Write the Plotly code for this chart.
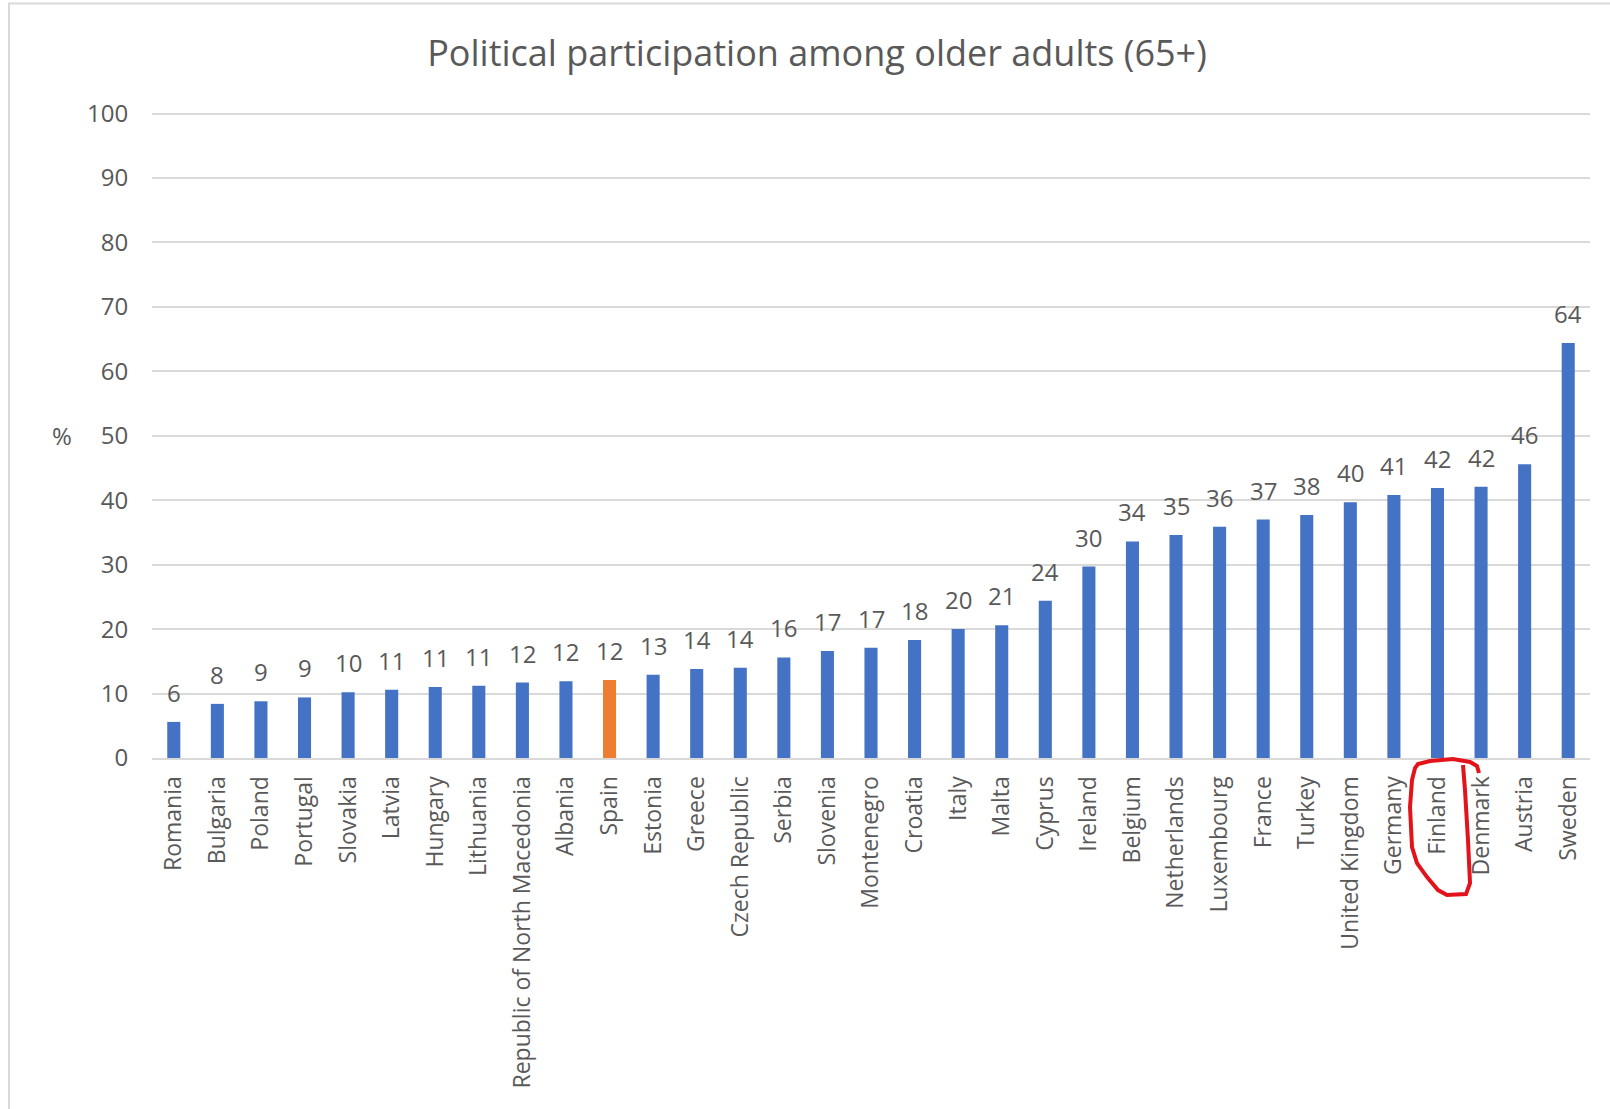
import plotly.graph_objects as go

countries = ["Romania", "Bulgaria", "Poland", "Portugal", "Slovakia", "Latvia", "Hungary",
             "Lithuania", "Republic of North Macedonia", "Albania", "Spain", "Estonia", "Greece",
             "Czech Republic", "Serbia", "Slovenia", "Montenegro", "Croatia", "Italy", "Malta",
             "Cyprus", "Ireland", "Belgium", "Netherlands", "Luxembourg", "France", "Turkey",
             "United Kingdom", "Germany", "Finland", "Denmark", "Austria", "Sweden"]
values = [5.6, 8.4, 8.8, 9.4, 10.2, 10.6, 11.0, 11.2, 11.7, 11.9, 12.1, 12.9, 13.8,
          14.0, 15.6, 16.6, 17.1, 18.3, 20.0, 20.6, 24.4, 29.7, 33.6, 34.6, 35.9, 37.0, 37.7,
          39.7, 40.8, 41.9, 42.1, 45.6, 64.4]
highlight = "Spain"
y_ticks = [0, 10, 20, 30, 40, 50, 60, 70, 80, 90, 100]

BLUE = "#4472C4"
ORANGE = "#ED7D31"
GREY = "#595959"
FONT = "Open Sans"

W, H = 1610, 1109
Y0_PX, Y100_PX = 758, 114
YMAX = 100.4
PX_PER_UNIT = (Y0_PX - Y100_PX) / 100
L, R = 152, 20
T = Y100_PX - (YMAX - 100) * PX_PER_UNIT
B = H - Y0_PX
PW, PH = W - L - R, H - T - B

def px2paper(x, y):
    return (x - L) / PW, (H - B - y) / PH

colors = [ORANGE if c == highlight else BLUE for c in countries]
labels = [str(int(v + 0.5)) for v in values]

fig = go.Figure(go.Bar(
    x=countries, y=values, marker_color=colors, marker_line_width=0,
))

annotations = [dict(x=c, y=v, xref="x", yref="y", text=t, showarrow=False,
                    xanchor="center", yanchor="bottom", yshift=11,
                    font=dict(family=FONT, size=24, color=GREY))
               for c, v, t in zip(countries, values, labels)]
annotations.append(dict(text="%", xref="paper", yref="y", x=px2paper(62, 0)[0], y=50,
                        xanchor="center", yanchor="middle", showarrow=False,
                        font=dict(family=FONT, size=24, color=GREY)))

# light frame of the original chart area (screenshot border)
x0, y0 = px2paper(9, 4)
x1, y1 = px2paper(1640, 1140)
shapes = [dict(type="rect", xref="paper", yref="paper", x0=x0, y0=y1, x1=x1, y1=y0,
               line=dict(color="#d9d9d9", width=2), layer="below")]

# hand-drawn red loop around "Finland"
loop_px = [(1463, 765), (1465, 790), (1468, 840), (1470, 883), (1466, 894), (1447, 895),
           (1438, 890), (1427, 877), (1417, 863), (1412, 847), (1410, 807), (1412, 780),
           (1415, 768), (1418, 764), (1430, 761), (1453, 759), (1470, 762), (1477, 766),
           (1479, 773)]
pts = [px2paper(x, y) for x, y in loop_px]
path = "M " + " L ".join(f"{px:.5f},{py:.5f}" for px, py in pts)
shapes.append(dict(type="path", xref="paper", yref="paper", path=path,
                   line=dict(color="#E3131B", width=4)))

fig.update_layout(
    width=W, height=H,
    margin=dict(l=L, r=R, t=T, b=B, autoexpand=False),
    plot_bgcolor="white", paper_bgcolor="white",
    bargap=0.7, showlegend=False,
    title=dict(text="Political participation among older adults (65+)",
               x=817 / W, xanchor="center", y=1 - 53 / H, yanchor="middle",
               font=dict(family=FONT, size=36, color=GREY)),
    shapes=shapes,
    annotations=annotations,
)
fig.update_xaxes(
    tickangle=-90, tickfont=dict(family=FONT, size=23, color=GREY),
    showline=True, linecolor="#d9d9d9", linewidth=2,
    ticks="outside", ticklen=7, tickcolor="rgba(0,0,0,0)", automargin=False,
)
fig.update_yaxes(
    range=[0, YMAX], tickvals=y_ticks, tickfont=dict(family=FONT, size=24, color=GREY),
    showgrid=True, gridcolor="#d9d9d9", gridwidth=2, zeroline=False,
    ticks="outside", ticklen=18, tickcolor="rgba(0,0,0,0)", automargin=False,
)

fig.write_html(
    "out.html",
    config={"displayModeBar": False},
    post_script="document.body.style.margin='0';document.body.style.overflow='hidden';",
)
